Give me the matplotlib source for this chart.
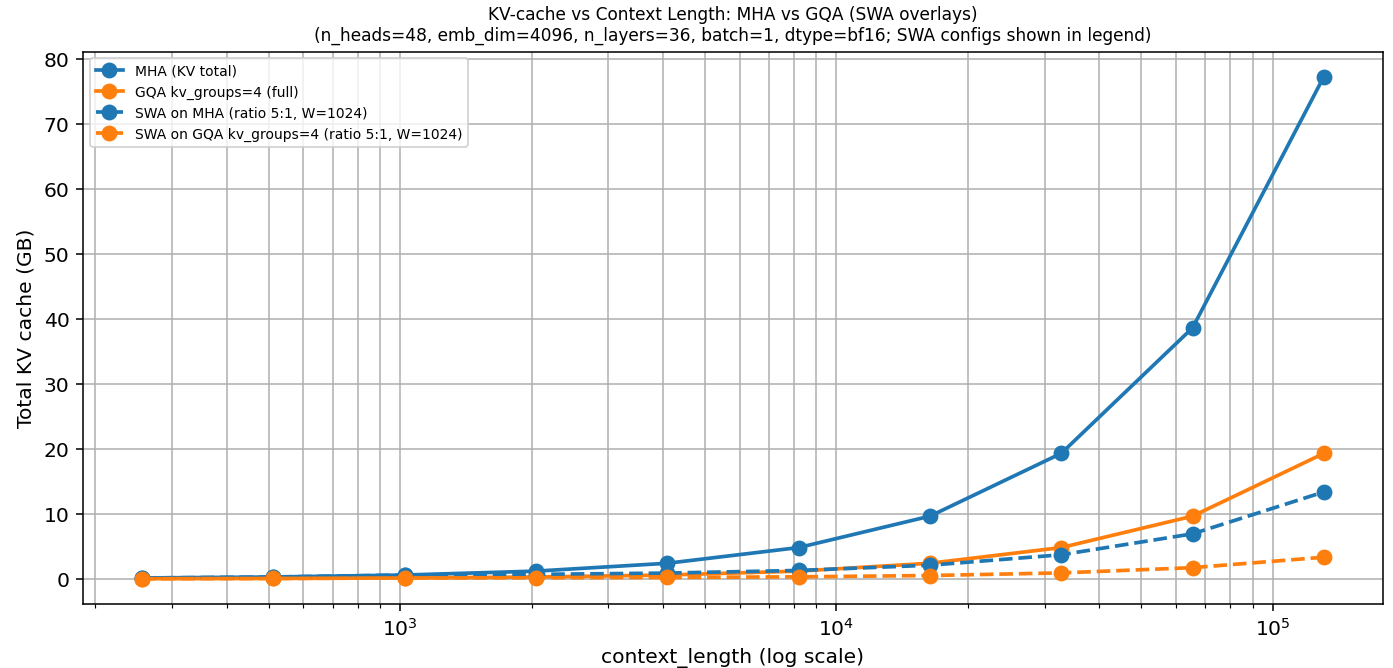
import matplotlib
matplotlib.use("Agg")
import matplotlib.pyplot as plt

# context lengths (tokens)
context_lengths = [256, 512, 1024, 2048, 4096, 8192, 16384, 32768, 65536, 131072]

# KV cache sizes in GB
mha_gb = [0.151, 0.302, 0.604, 1.208, 2.416, 4.832, 9.664, 19.33, 38.65, 77.31]
gqa_gb = [0.038, 0.075, 0.151, 0.302, 0.604, 1.208, 2.416, 4.832, 9.664, 19.33]
swa_mha_gb = [0.151, 0.302, 0.604, 0.705, 0.906, 1.309, 2.114, 3.725, 6.945, 13.39]
swa_gqa_gb = [0.038, 0.075, 0.151, 0.176, 0.226, 0.327, 0.528, 0.931, 1.736, 3.347]

labels = [
    "MHA (KV total)",
    "GQA kv_groups=4 (full)",
    "SWA on MHA (ratio 5:1, W=1024)",
    "SWA on GQA kv_groups=4 (ratio 5:1, W=1024)",
]


def main():
    fig, ax = plt.subplots(figsize=(10, 4.8), dpi=139.3)
    fig.subplots_adjust(left=0.0596, right=0.9928, top=0.922, bottom=0.096)

    style = {"lw": 1.9, "ms": 7.2}
    ax.plot(context_lengths, mha_gb, "o-", color="C0", label=labels[0], **style)
    ax.plot(context_lengths, gqa_gb, "o-", color="C1", label=labels[1], **style)
    ax.plot(context_lengths, swa_mha_gb, "o--", color="C0", label=labels[2], **style)
    ax.plot(context_lengths, swa_gqa_gb, "o--", color="C1", label=labels[3], **style)

    ax.set_xscale("log")
    ax.set_xlabel("context_length (log scale)", fontsize=10.5)
    ax.set_ylabel("Total KV cache (GB)", fontsize=10.5)
    ax.tick_params(labelsize=10.5)
    ax.set_title(
        "KV-cache vs Context Length: MHA vs GQA (SWA overlays)\n"
        "(n_heads=48, emb_dim=4096, n_layers=36, batch=1, dtype=bf16; SWA configs shown in legend)",
        fontsize=8.8,
    )
    ax.grid(True, which="both")
    ax.legend(loc="upper left", fontsize=7.2)

    fig.savefig("out.png")
    plt.close(fig)


if __name__ == "__main__":
    main()
